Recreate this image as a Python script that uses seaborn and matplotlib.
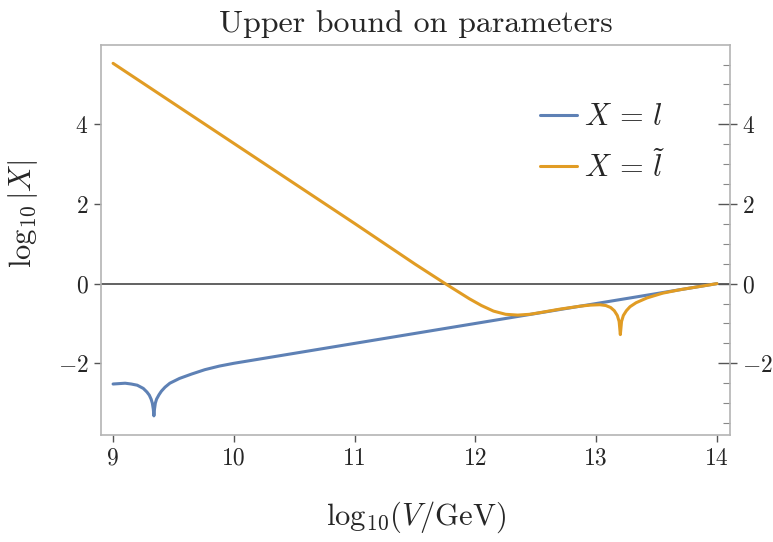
import numpy as np
import pandas as pd
import matplotlib
matplotlib.use("Agg")
import matplotlib.pyplot as plt
from matplotlib.ticker import MultipleLocator, NullLocator
import seaborn as sns

# ---- data ----
blue_x = [9.0, 9.05, 9.10, 9.15, 9.20, 9.25, 9.28, 9.30, 9.315, 9.325, 9.333, 9.338, 9.343, 9.35,
          9.36, 9.38, 9.40, 9.43, 9.47, 9.55, 9.65, 9.76, 9.88, 10.0, 10.5, 11.0,
          11.5, 12.0, 12.5, 13.0, 13.5, 14.0]
blue_y = [-2.52, -2.51, -2.50, -2.52, -2.55, -2.63, -2.72, -2.80, -2.90, -3.00, -3.15, -3.32, -3.15, -3.00,
          -2.90, -2.79, -2.70, -2.60, -2.50, -2.38, -2.27, -2.16, -2.07, -2.00, -1.75, -1.50,
          -1.25, -1.00, -0.75, -0.50, -0.25, 0.00]

orange_x = [9.0, 10.0, 11.0, 11.5, 11.75, 11.95, 12.05, 12.15, 12.25, 12.35, 12.45, 12.55,
            12.70, 12.87, 12.95, 13.03, 13.08, 13.12, 13.15, 13.175, 13.19, 13.20, 13.21,
            13.225, 13.25, 13.28, 13.33, 13.42, 13.55, 13.69, 13.85, 14.0]
orange_y = [5.53, 3.52, 1.51, 0.49, 0.00, -0.38, -0.55, -0.69, -0.77, -0.79, -0.77, -0.72,
            -0.64, -0.565, -0.54, -0.53, -0.55, -0.60, -0.68, -0.80, -0.95, -1.28, -0.95,
            -0.80, -0.68, -0.58, -0.48, -0.36, -0.24, -0.155, -0.075, 0.00]

series_names = [r"$X\,=\,l$", r"$X\,=\,\tilde{l}$"]
x_ticks = [9, 10, 11, 12, 13, 14]
x_tick_labels = ["9", "10", "11", "12", "13", "14"]
y_ticks = [-2, 0, 2, 4]
y_tick_labels = [r"$-2$", r"$0$", r"$2$", r"$4$"]

df = pd.concat([
    pd.DataFrame({"x": blue_x, "y": blue_y, "series": series_names[0]}),
    pd.DataFrame({"x": orange_x, "y": orange_y, "series": series_names[1]}),
], ignore_index=True)

sns.set_style("white")
plt.rcParams.update({
    "font.family": "serif",
    "font.serif": ["cmr10"],
    "mathtext.fontset": "cm",
    "axes.unicode_minus": False,
})

BLUE = "#5E81B5"
ORANGE = "#E19C24"
FRAME = "#b4b4b4"
TICK = "#555555"

fig = plt.figure(figsize=(7.73, 5.42), dpi=100)
ax = fig.add_axes([101 / 773, 1 - 435 / 542, 629 / 773, 390 / 542])

ax.axhline(0, color="#555555", lw=1.3, zorder=1)
sns.lineplot(data=df, x="x", y="y", hue="series", palette=[BLUE, ORANGE],
             linewidth=2.2, sort=False, estimator=None, ax=ax, zorder=3)

ax.set_xlim(8.9, 14.108)
ax.set_ylim(-3.80, 5.99)

ax.set_xticks(x_ticks)
ax.set_xticklabels(x_tick_labels)
ax.set_yticks(y_ticks)
ax.set_yticklabels(y_tick_labels)
ax.xaxis.set_minor_locator(MultipleLocator(0.2))
ax.yaxis.set_minor_locator(MultipleLocator(0.5))

ax.tick_params(which="major", direction="in", length=9, width=1.0, color=TICK,
               top=False, right=True, labelright=True, labelsize=17, pad=9)
ax.tick_params(which="minor", direction="in", length=5, width=0.8, color="#888888",
               top=False, right=True)

for s in ax.spines.values():
    s.set_color(FRAME)
    s.set_linewidth(1.2)

# outward stubs of major ticks
sx = ax.secondary_xaxis("bottom")
sx.set_xticks(x_ticks)
sx.xaxis.set_minor_locator(NullLocator())
sx.tick_params(direction="out", length=5, width=1.0, color=TICK, labelbottom=False)
for s in sx.spines.values():
    s.set_visible(False)
for loc in ["left", "right"]:
    sy = ax.secondary_yaxis(loc)
    sy.set_yticks(y_ticks)
    sy.yaxis.set_minor_locator(NullLocator())
    sy.tick_params(direction="out", length=5, width=1.0, color=TICK,
                   labelleft=False, labelright=False)
    for s in sy.spines.values():
        s.set_visible(False)

ax.set_title("Upper bound on parameters", fontsize=23, pad=9)
ax.set_xlabel(r"$\mathrm{log}_{10}(V/\mathrm{GeV})$", fontsize=22)
ax.set_ylabel(r"$\log_{10}|X|$", fontsize=22)
ax.xaxis.set_label_coords(0.5, -0.165)
ax.yaxis.set_label_coords(-0.097, 0.567)

leg = ax.legend(loc="upper left", bbox_to_anchor=((540 - 101) / 629, (435 - 104) / 390),
                frameon=False, fontsize=22, handlelength=1.2, handletextpad=0.25,
                labelspacing=0.6, borderpad=0, borderaxespad=0)
for line in leg.get_lines():
    line.set_linewidth(2.2)

fig.savefig("out.png", dpi=100)
